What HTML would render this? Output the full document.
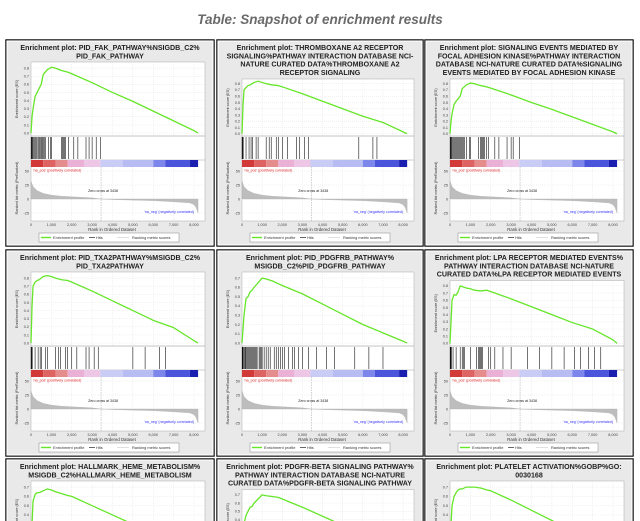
<!DOCTYPE html>
<html><head><meta charset="utf-8">
<style>
html,body{margin:0;padding:0;background:#fff;width:640px;height:521px;overflow:hidden}
svg{display:block;font-family:"Liberation Sans","DejaVu Sans",sans-serif}
</style></head>
<body>
<svg id="root" width="640" height="521" viewBox="0 0 640 521">
<text x="320" y="24" text-anchor="middle" font-size="13.5" font-weight="bold" font-style="italic" fill="#6a6a6a">Table: Snapshot of enrichment results</text>
</svg>
<script>
// ---- data ----
const esRanks = [0,50,100,200,300,400,500,600,800,1000,1200,1500,1800,2000,3000,4000,5000,6000,7000,8000,8200];
const es1 = [0,0.2,0.3,0.45,0.5,0.55,0.6,0.72,0.78,0.81,0.8,0.77,0.75,0.73,0.62,0.5,0.39,0.27,0.15,0.03,0];
const es2 = [0,0.45,0.7,0.74,0.77,0.78,0.8,0.82,0.84,0.82,0.8,0.78,0.77,0.75,0.64,0.52,0.4,0.28,0.18,0.03,0];
const es3 = [0,0.2,0.32,0.47,0.52,0.56,0.6,0.72,0.78,0.81,0.8,0.77,0.75,0.73,0.62,0.5,0.39,0.27,0.15,0.03,0];
const es4 = [0,0.45,0.7,0.75,0.77,0.78,0.8,0.82,0.83,0.82,0.8,0.78,0.77,0.75,0.64,0.52,0.4,0.28,0.19,0.03,0];
const es5 = [0,0.15,0.3,0.48,0.5,0.55,0.57,0.6,0.65,0.7,0.69,0.67,0.64,0.62,0.53,0.42,0.31,0.2,0.11,0.02,0];
const es6 = [0,0.3,0.6,0.68,0.67,0.72,0.8,0.79,0.77,0.76,0.74,0.73,0.74,0.72,0.62,0.51,0.4,0.29,0.2,0.05,0];
const es7 = [0,0.3,0.55,0.62,0.64,0.64,0.65,0.66,0.68,0.67,0.65,0.63,0.61,0.6,0.5,0.4,0.3,0.2,0.1,0.02,0];
const es8 = [0,0.2,0.35,0.45,0.5,0.55,0.56,0.6,0.65,0.7,0.69,0.68,0.67,0.65,0.55,0.44,0.33,0.22,0.12,0.02,0];
const es9 = [0,0.3,0.5,0.6,0.64,0.67,0.68,0.68,0.7,0.7,0.7,0.69,0.67,0.66,0.56,0.45,0.34,0.23,0.12,0.02,0];
const hits1 = [10,30,60,100,150,200,250,300,380,420,480,520,560,600,650,700,850,950,1000,1500,1550,1600,1650,1700,1850,2100,2300,2700,2850,3000,3200,3400];
const hits2 = [5,15,30,60,200,350,450,520,700,800,1200,1350,1450,1700,1800,2000,2250,2700,2850,3100,3300,5800,6500,6700];
const hits3 = [10,30,60,100,150,200,250,300,350,400,450,500,550,600,650,700,800,950,1000,1400,1500,1550,1600,1650,1700,1800,1900,2200,2400,2800,3000,3100,3400];
const hits4 = [5,15,30,60,200,350,450,520,700,800,1200,1350,1450,1700,1800,2000,2250,2700,2850,3100,3300,5000,5600,6300,6600];
const hits5 = [10,40,80,120,160,200,250,300,350,400,450,500,550,600,650,700,750,850,900,950,1000,1100,1200,1300,1400,1600,1700,1800,1900,2000,2100,2300,2500,2600,2800,3000,3300,3700,4200,4600,5600,6300,7000];
const hits6 = [10,40,80,150,300,500,600,650,700,1000,1300,1400,1450,1500,1550,1600,1900,2000,2200,2600,3000,3800,4400,5000,5600,6100,6400,6800,7100,7400];
const hits7 = [10,40,80,150,300,500,700,900,1200,1600,2000];
const hits8 = [10,40,80,150,300,500,700,900,1200,1600,2000];
const hits9 = [10,40,80,150,300,500,700,900,1200,1600,2000];
const metricRanks = [0,100,300,600,1000,1500,2000,3000,3438,4000,5000,6000,7000,7800,8000,8100,8200];
const metricVals = [32,22,15,10,7,5,4,2,0,-1,-2,-3,-5,-7,-10,-15,-25];
const xTicks = [0,1000,2000,3000,4000,5000,6000,7000,8000];
const xTickLabels = ["0","1,000","2,000","3,000","4,000","5,000","6,000","7,000","8,000"];
const metricTicks = [50,25,0,-25];
const zeroCross = 3438;
const titles = [
 ["Enrichment plot: PID_FAK_PATHWAY%NSIGDB_C2%","PID_FAK_PATHWAY"],
 ["Enrichment plot: THROMBOXANE A2 RECEPTOR","SIGNALING%PATHWAY INTERACTION DATABASE NCI-","NATURE CURATED DATA%THROMBOXANE A2","RECEPTOR SIGNALING"],
 ["Enrichment plot: SIGNALING EVENTS MEDIATED BY","FOCAL ADHESION KINASE%PATHWAY INTERACTION","DATABASE NCI-NATURE CURATED DATA%SIGNALING","EVENTS MEDIATED BY FOCAL ADHESION KINASE"],
 ["Enrichment plot: PID_TXA2PATHWAY%MSIGDB_C2%","PID_TXA2PATHWAY"],
 ["Enrichment plot: PID_PDGFRB_PATHWAY%","MSIGDB_C2%PID_PDGFRB_PATHWAY"],
 ["Enrichment plot: LPA RECEPTOR MEDIATED EVENTS%","PATHWAY INTERACTION DATABASE NCI-NATURE","CURATED DATA%LPA RECEPTOR MEDIATED EVENTS"],
 ["Enrichment plot: HALLMARK_HEME_METABOLISM%","MSIGDB_C2%HALLMARK_HEME_METABOLISM"],
 ["Enrichment plot: PDGFR-BETA SIGNALING PATHWAY%","PATHWAY INTERACTION DATABASE NCI-NATURE","CURATED DATA%PDGFR-BETA SIGNALING PATHWAY"],
 ["Enrichment plot: PLATELET ACTIVATION%GOBP%GO:","0030168"]
];
const esSeries = [es1,es2,es3,es4,es5,es6,es7,es8,es9];
const hitSeries = [hits1,hits2,hits3,hits4,hits5,hits6,hits7,hits8,hits9];
const esTickMax = [0.8,0.8,0.8,0.8,0.7,0.8,0.7,0.7,0.7];

const NS = "http://www.w3.org/2000/svg";
const root = document.getElementById('root');
function mk(tag, attrs, parent){
  const e = document.createElementNS(NS, tag);
  for (const k in attrs) e.setAttribute(k, attrs[k]);
  (parent||root).appendChild(e);
  return e;
}
const colX = [6,217,425], colW = [208,206,208], rowY = [40,250,459];

for (let p=0;p<9;p++){
  const bx = colX[p%3], by = rowY[Math.floor(p/3)], w = colW[p%3], h = 206;
  const g = mk('g',{});
  
  
  const ob = mk('rect',{x:bx,y:by,width:w,height:h,fill:'#e9e9e9',stroke:'#000','stroke-width':1.4},g);
  
  
  mk('rect',{x:bx+1,y:by+1,width:w-2,height:h-2,fill:'none',stroke:'#fff','stroke-width':1.2},g);
  const lines = titles[p];
  lines.forEach((t,i)=>{
    const tx = mk('text',{x:bx+w/2,y:by+10+i*8.3,'text-anchor':'middle','font-size':7.1,'font-weight':'bold',fill:'#222'},g);
    tx.textContent = t;
    
    
  });
  const L = bx+25, R = bx+w-9;
  const T = by+5+lines.length*8.5;
  const B1 = by+96, HB = by+120, CB = by+127, RB = by+181;
  const xs = r => L + r*(R-L)/8540;
  const esMax = esTickMax[p];
  const ymin = -0.036*esMax/0.8, ymax = esMax + (esMax/0.8)*0.075;
  const ys = v => B1 - (v-ymin)/(ymax-ymin)*(B1-T);
  const ms = v => by+159 - v*0.56;
  mk('rect',{x:L,y:T,width:R-L,height:RB-T,fill:'#fff',stroke:'#999','stroke-width':0.4},g);
  xTicks.forEach(t=>{
    mk('line',{x1:xs(t),x2:xs(t),y1:T,y2:B1,stroke:'#ddd','stroke-width':0.4,'stroke-dasharray':'1,1'},g);
    mk('line',{x1:xs(t),x2:xs(t),y1:CB,y2:RB,stroke:'#ddd','stroke-width':0.4,'stroke-dasharray':'1,1'},g);
  });
  for (let k=0; k<=Math.round(esMax*10); k++){
    const v = k/10;
    mk('line',{x1:L,x2:R,y1:ys(v),y2:ys(v),stroke:'#ddd','stroke-width':0.4,'stroke-dasharray':'1,1'},g);
    const tl = mk('text',{x:L-2,y:ys(v)+1.3,'text-anchor':'end','font-size':3.8,fill:'#444'},g);
    tl.textContent = v.toFixed(1);
  }
  metricTicks.forEach(v=>{
    mk('line',{x1:L,x2:R,y1:ms(v),y2:ms(v),stroke:'#ddd','stroke-width':0.4,'stroke-dasharray':'1,1'},g);
    const tl = mk('text',{x:L-2,y:ms(v)+1.3,'text-anchor':'end','font-size':3.8,fill:'#444'},g);
    tl.textContent = String(v);
  });
  mk('line',{x1:L,x2:R,y1:B1,y2:B1,stroke:'#888','stroke-width':0.5},g);
  mk('line',{x1:L,x2:R,y1:HB,y2:HB,stroke:'#888','stroke-width':0.4},g);
  hitSeries[p].forEach(r=>{
    const hl = mk('line',{x1:xs(r),x2:xs(r),y1:B1+1,y2:HB-1,stroke:'#000','stroke-width':0.55},g);
    
    
  });
  const segs = [[0,600,'#d23a3a'],[600,1200,'#de6464'],[1200,1800,'#e58c8c'],[1800,2600,'#eab0d6'],[2600,3400,'#eec6e6'],[3400,4500,'#c9cdf5'],[4500,6000,'#b7bdf2'],[6000,6600,'#7d86ea'],[6600,7800,'#4a55dc'],[7800,8200,'#1a1fb0']];
  segs.forEach(s=>mk('rect',{x:xs(s[0]),y:HB,width:xs(s[1])-xs(s[0]),height:CB-HB,fill:s[2]},g));
  let d = 'M'+xs(metricRanks[0])+','+ms(0);
  metricRanks.forEach((r,i)=>{ d += ' L'+xs(r)+','+ms(metricVals[i]); });
  d += ' L'+xs(metricRanks[metricRanks.length-1])+','+ms(0)+' Z';
  const ma = mk('path',{d:d,fill:'#bdbdbd',stroke:'#aaa','stroke-width':0.3},g);
  
  
  mk('line',{x1:xs(zeroCross),x2:xs(zeroCross),y1:CB,y2:RB,stroke:'#888','stroke-width':0.4,'stroke-dasharray':'1.5,1'},g);
  const zc = mk('text',{x:xs(zeroCross)+2,y:by+152,'text-anchor':'middle','font-size':3.6,fill:'#222'},g);
  zc.textContent = 'Zero cross at '+zeroCross;
  const np = mk('text',{x:L+2,y:CB+4.5,'font-size':3.6,fill:'#d22'},g);
  np.textContent = "'na_pos' (positively correlated)";
  const nn = mk('text',{x:xs(8000),y:by+173,'text-anchor':'end','font-size':3.6,fill:'#33f'},g);
  nn.textContent = "'na_neg' (negatively correlated)";
  let pts = esSeries[p].map((v,i)=>xs(esRanks[i])+','+ys(v)).join(' ');
  const cv = mk('polyline',{points:pts,fill:'none',stroke:'#66e62a','stroke-width':1.3,'stroke-linejoin':'round'},g);
  
  
  xTicks.forEach((t,i)=>{
    const tl = mk('text',{x:xs(t),y:by+186,'text-anchor':'middle','font-size':3.8,fill:'#444'},g);
    tl.textContent = xTickLabels[i];
  });
  const xt = mk('text',{x:(L+R)/2-6,y:by+191,'text-anchor':'middle','font-size':4.3,fill:'#333'},g);
  xt.textContent = 'Rank in Ordered Dataset';
  
  
  const yt1 = mk('text',{x:0,y:0,'text-anchor':'middle','font-size':3.8,fill:'#333',transform:'translate('+(bx+12)+','+((T+B1)/2)+') rotate(-90)'},g);
  yt1.textContent = 'Enrichment score (ES)';
  
  
  const yt2 = mk('text',{x:0,y:0,'text-anchor':'middle','font-size':3.8,fill:'#333',transform:'translate('+(bx+12)+','+((CB+RB)/2-6)+') rotate(-90)'},g);
  yt2.textContent = 'Ranked list metric (PreRanked)';
  
  
  const lx = bx+33, ly = by+193;
  const lg = mk('g',{},g);
  
  
  mk('rect',{x:lx,y:ly,width:140,height:9,fill:'#fff',stroke:'#888','stroke-width':0.5},lg);
  mk('line',{x1:lx+2,x2:lx+12,y1:ly+4.5,y2:ly+4.5,stroke:'#66e62a','stroke-width':1.4},lg);
  const l1 = mk('text',{x:lx+14,y:ly+6,'font-size':3.9,fill:'#333'},lg); l1.textContent='Enrichment profile';
  mk('line',{x1:lx+50,x2:lx+56,y1:ly+4.5,y2:ly+4.5,stroke:'#000','stroke-width':0.6},lg);
  const l2 = mk('text',{x:lx+57,y:ly+6,'font-size':3.9,fill:'#333'},lg); l2.textContent='Hits';
  mk('line',{x1:lx+78,x2:lx+90,y1:ly+4.5,y2:ly+4.5,stroke:'#ccc','stroke-width':0.6},lg);
  const l3 = mk('text',{x:lx+93,y:ly+6,'font-size':3.9,fill:'#333'},lg); l3.textContent='Ranking metric scores';
}
</script>
</body></html>
